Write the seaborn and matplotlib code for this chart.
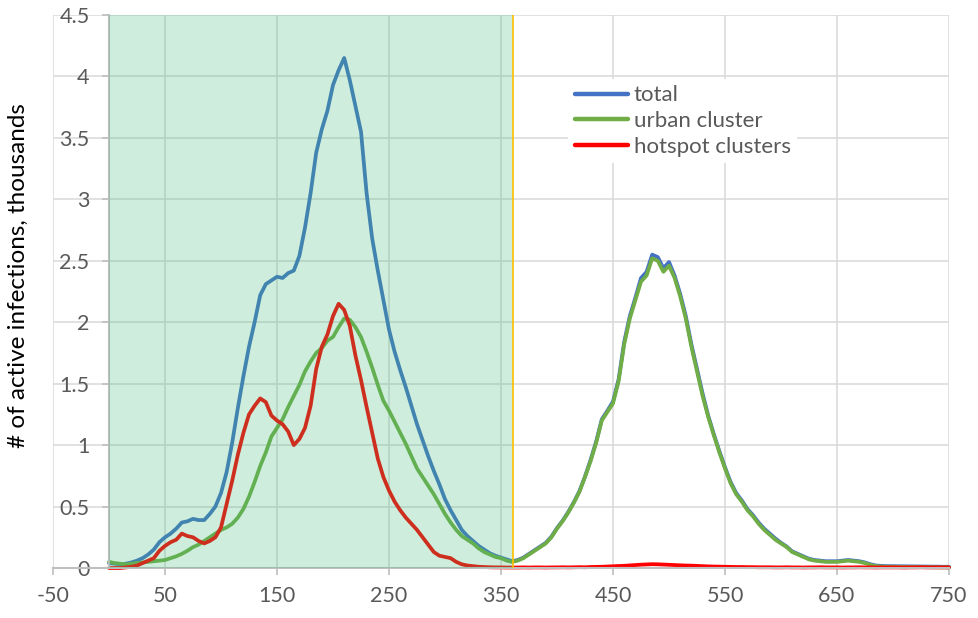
import matplotlib
matplotlib.use("Agg")
import matplotlib.pyplot as plt
import seaborn as sns
import pandas as pd

days = list(range(0, 751, 5))

urban = [
    0.05, 0.04, 0.035, 0.03, 0.035, 0.04, 0.045, 0.05, 0.055, 0.06,
    0.065, 0.08, 0.095, 0.115, 0.14, 0.17, 0.19, 0.22, 0.25, 0.28,
    0.31, 0.33, 0.36, 0.41, 0.48, 0.58, 0.70, 0.83, 0.94, 1.07,
    1.14, 1.21, 1.31, 1.40, 1.49, 1.60, 1.68, 1.75, 1.79, 1.85,
    1.88, 1.96, 2.03, 2.02, 1.96, 1.88, 1.76, 1.63, 1.49, 1.36,
    1.28, 1.19, 1.10, 1.01, 0.91, 0.81, 0.74, 0.67, 0.60, 0.52,
    0.44, 0.37, 0.31, 0.26, 0.23, 0.20, 0.16, 0.13, 0.11, 0.09,
    0.08, 0.06, 0.05, 0.06, 0.08, 0.11, 0.14, 0.17, 0.20, 0.25,
    0.32, 0.38, 0.45, 0.53, 0.62, 0.74, 0.87, 1.02, 1.20, 1.27,
    1.34, 1.52, 1.82, 2.03, 2.18, 2.33, 2.38, 2.52, 2.50, 2.41,
    2.46, 2.36, 2.21, 2.03, 1.80, 1.60, 1.40, 1.23, 1.08, 0.94,
    0.81, 0.69, 0.60, 0.54, 0.47, 0.42, 0.36, 0.31, 0.27, 0.23,
    0.20, 0.17, 0.13, 0.11, 0.09, 0.07, 0.06, 0.055, 0.05, 0.05,
    0.05, 0.055, 0.06, 0.055, 0.05, 0.04, 0.025, 0.015, 0.012, 0.01,
    0.01, 0.009, 0.009, 0.008, 0.008, 0.007, 0.007, 0.006, 0.006, 0.005,
    0.005,
]

hotspot = [
    0.0, 0.0, 0.0, 0.005, 0.01, 0.02, 0.04, 0.06, 0.08, 0.14,
    0.18, 0.21, 0.23, 0.28, 0.26, 0.25, 0.22, 0.20, 0.22, 0.25,
    0.33, 0.52, 0.71, 0.92, 1.10, 1.25, 1.32, 1.38, 1.35, 1.24,
    1.20, 1.17, 1.11, 1.00, 1.05, 1.14, 1.32, 1.62, 1.80, 1.90,
    2.05, 2.15, 2.10, 1.97, 1.73, 1.53, 1.31, 1.10, 0.89, 0.74,
    0.63, 0.54, 0.47, 0.41, 0.36, 0.31, 0.25, 0.19, 0.13, 0.10,
    0.09, 0.08, 0.05, 0.03, 0.02, 0.015, 0.01, 0.008, 0.006, 0.005,
    0.005, 0.004, 0.004, 0.004, 0.005, 0.004, 0.005, 0.005, 0.004, 0.005,
    0.005, 0.006, 0.005, 0.006, 0.007, 0.006, 0.008, 0.009, 0.01, 0.012,
    0.014, 0.016, 0.018, 0.021, 0.024, 0.027, 0.029, 0.031, 0.03, 0.028,
    0.026, 0.024, 0.022, 0.02, 0.019, 0.017, 0.015, 0.013, 0.012, 0.011,
    0.01, 0.009, 0.008, 0.008, 0.007, 0.007, 0.006, 0.006, 0.006, 0.005,
    0.005, 0.006, 0.005, 0.005, 0.004, 0.005, 0.005, 0.006, 0.005, 0.005,
    0.005, 0.004, 0.005, 0.005, 0.006, 0.005, 0.005, 0.004, 0.005, 0.005,
    0.005, 0.005, 0.004, 0.005, 0.005, 0.006, 0.005, 0.005, 0.005, 0.005,
    0.005,
]

total = [
    0.04, 0.035, 0.03, 0.035, 0.045, 0.06, 0.08, 0.11, 0.15, 0.21,
    0.25, 0.28, 0.32, 0.37, 0.38, 0.40, 0.39, 0.39, 0.44, 0.50,
    0.61, 0.78, 1.02, 1.30, 1.56, 1.80, 2.00, 2.22, 2.31, 2.34,
    2.37, 2.36, 2.40, 2.42, 2.54, 2.77, 3.05, 3.38, 3.57, 3.72,
    3.93, 4.05, 4.15, 3.97, 3.76, 3.55, 3.05, 2.68, 2.42, 2.18,
    1.94, 1.76, 1.61, 1.47, 1.32, 1.17, 1.04, 0.91, 0.79, 0.68,
    0.56, 0.47, 0.39, 0.31, 0.26, 0.22, 0.18, 0.15, 0.12, 0.10,
    0.085, 0.07, 0.055, 0.065, 0.085, 0.115, 0.145, 0.175, 0.205, 0.255,
    0.325, 0.385, 0.455, 0.535, 0.625, 0.745, 0.88, 1.03, 1.21, 1.28,
    1.355, 1.535, 1.84, 2.05, 2.20, 2.36, 2.41, 2.55, 2.53, 2.44,
    2.49, 2.38, 2.23, 2.05, 1.82, 1.62, 1.42, 1.24, 1.09, 0.95,
    0.82, 0.70, 0.61, 0.55, 0.48, 0.43, 0.37, 0.32, 0.28, 0.24,
    0.205, 0.175, 0.135, 0.115, 0.095, 0.075, 0.065, 0.06, 0.055, 0.055,
    0.055, 0.06, 0.065, 0.06, 0.055, 0.045, 0.03, 0.02, 0.017, 0.015,
    0.015, 0.014, 0.014, 0.013, 0.013, 0.012, 0.012, 0.011, 0.011, 0.01,
    0.01,
]

series_names = ["total", "urban cluster", "hotspot clusters"]
series_colors = ["#4472C4", "#70AD47", "#FF0000"]
x_ticks = list(range(-50, 751, 100))
y_ticks = [0, 0.5, 1, 1.5, 2, 2.5, 3, 3.5, 4, 4.5]
y_tick_labels = ["0", "0.5", "1", "1.5", "2", "2.5", "3", "3.5", "4", "4.5"]
phase_end = 361
y_label = "# of active infections, thousands"

df = pd.DataFrame({"day": days * 3,
                   "value": total + urban + hotspot,
                   "series": [series_names[0]] * len(days)
                   + [series_names[1]] * len(days)
                   + [series_names[2]] * len(days)})

sns.set_theme(style="white")
plt.rcParams["font.family"] = ["Lato", "DejaVu Sans"]

fig = plt.figure(figsize=(9.79, 6.18), dpi=100)
ax = fig.add_axes([53 / 979, 1 - 568 / 618, (949 - 53) / 979, (568 - 15) / 618])

sns.lineplot(data=df, x="day", y="value", hue="series", hue_order=series_names,
             palette=series_colors, linewidth=2.7, ax=ax, legend=False,
             estimator=None, sort=False)
for ln in ax.lines:
    ln.set_clip_on(False)
    ln.set_solid_joinstyle("round")
    ln.set_zorder(2)

ax.axvspan(0, phase_end, color=(63 / 255, 187 / 255, 119 / 255), alpha=0.25,
           lw=0, zorder=3)
ax.axvline(phase_end, color="#FFC000", lw=1.2, zorder=4)

ax.set_xlim(-50, 750)
ax.set_ylim(0, 4.5)
ax.set_xticks(x_ticks)
ax.set_xticklabels([str(v) for v in x_ticks])
ax.set_yticks(y_ticks)
ax.set_yticklabels(y_tick_labels)
ax.set_axisbelow(True)
ax.grid(True, color="#D9D9D9", lw=1.1)

for s in ["top", "right"]:
    ax.spines[s].set_visible(False)
ax.spines["left"].set_position(("data", 0))
ax.spines["left"].set_color("#BFBFBF")
ax.spines["left"].set_linewidth(1.5)
ax.spines["left"].set_zorder(2.5)
ax.spines["bottom"].set_color("#BFBFBF")
ax.spines["bottom"].set_linewidth(1.5)

ax.tick_params(axis="both", which="both", direction="out", length=5,
               width=1.2, color="#BFBFBF", labelcolor="#595959",
               labelsize=15.5)
ax.tick_params(axis="y", pad=9, left=True)
ax.tick_params(axis="x", pad=8, bottom=True)
ax.set_xlabel("")
ax.set_ylabel("")

fig.text(18 / 979, 1 - 276 / 618, y_label, rotation=90, ha="center",
         va="center", fontsize=17.5, color="black")

handles = [plt.Line2D([], [], color=c, lw=3.2) for c in series_colors]
leg = ax.legend(handles, series_names, loc="center left",
                bbox_to_anchor=(568 / 979, 1 - 121 / 618),
                bbox_transform=fig.transFigure, frameon=True, fontsize=16,
                handlelength=2.4, handletextpad=0.25, labelspacing=0.25,
                borderpad=0.3, borderaxespad=0)
leg.get_frame().set_facecolor("white")
leg.get_frame().set_edgecolor("none")
leg.get_frame().set_alpha(1)
for t in leg.get_texts():
    t.set_color("#595959")

fig.savefig("out.png", dpi=100)
